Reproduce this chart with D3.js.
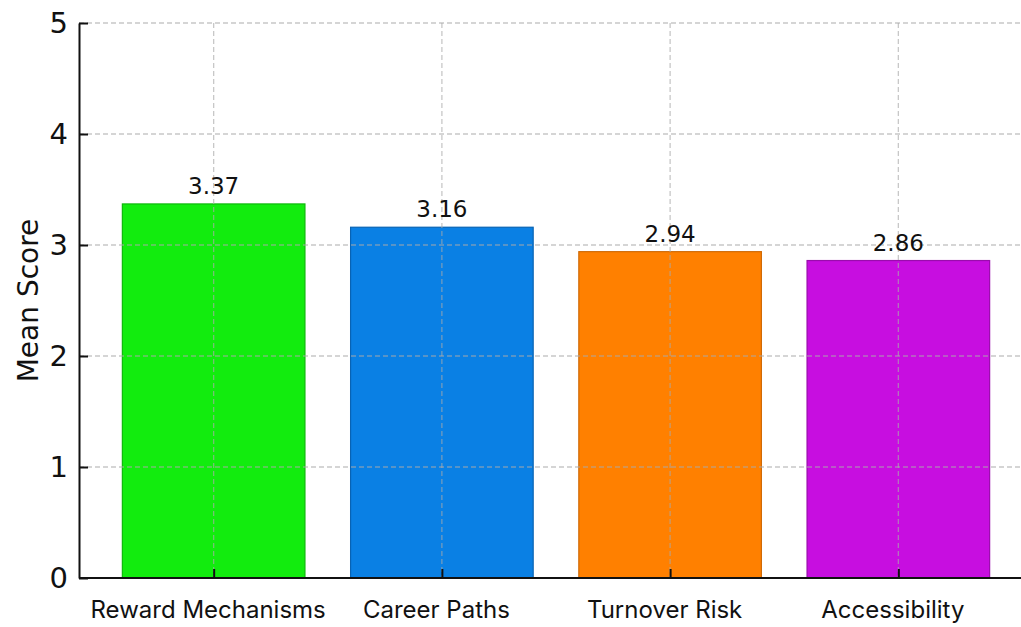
<!DOCTYPE html>
<html>
<head>
<meta charset="utf-8">
<script src="https://cdn.jsdelivr.net/npm/d3@7"></script>
<style>
  html, body { margin: 0; padding: 0; background: #fff; }
  svg { display: block; }
</style>
</head>
<body>
<svg id="chart" width="1021" height="627"></svg>
<script>
// Mean score per dimension
const categories = ["Reward Mechanisms", "Career Paths", "Turnover Risk", "Accessibility"];
const meanScores = [3.37, 3.16, 2.94, 2.86];
const barColors = ["#12ec0e", "#0a80e4", "#ff8000", "#c70ee0"];
const edgeColors = ["#0fb80c", "#0863b4", "#d06a06", "#9a0bad"];
const yTicks = [0, 1, 2, 3, 4, 5];

const svg = d3.select("#chart");
const plot = { left: 79, right: 1033, top: 23, bottom: 578 };

// Linear x in category units, matching a padded bar layout
const x = d3.scaleLinear().domain([-0.59, 3.59]).range([plot.left, plot.right]);
const y = d3.scaleLinear().domain([0, 5]).range([plot.bottom, plot.top]);
const barHalf = 0.4;

const g = svg.append("g");

// Bars
g.selectAll("rect.bar")
  .data(meanScores)
  .join("rect")
  .attr("class", "bar")
  .attr("x", (d, i) => x(i - barHalf))
  .attr("width", (d, i) => x(i + barHalf) - x(i - barHalf))
  .attr("y", d => y(d))
  .attr("height", d => y(0) - y(d))
  .attr("fill", (d, i) => barColors[i])
  .attr("stroke", (d, i) => edgeColors[i])
  .attr("stroke-width", 1.2);

// Grid (drawn over the bars, semi-transparent)
const grid = g.append("g").attr("stroke", "rgb(170,170,170)").attr("stroke-opacity", 0.65)
  .attr("stroke-width", 1.3).attr("stroke-dasharray", "5,3");
grid.selectAll("line.h").data(yTicks.filter(t => t > 0)).join("line")
  .attr("x1", plot.left).attr("x2", 1021)
  .attr("y1", d => y(d)).attr("y2", d => y(d));
grid.selectAll("line.v").data(categories).join("line")
  .attr("x1", (d, i) => x(i)).attr("x2", (d, i) => x(i))
  .attr("y1", plot.top).attr("y2", plot.bottom);

// Value labels
g.selectAll("text.val")
  .data(meanScores)
  .join("text")
  .attr("class", "val")
  .attr("x", (d, i) => x(i))
  .attr("y", d => y(d) - 10)
  .attr("text-anchor", "middle")
  .attr("font-family", "DejaVu Sans, sans-serif")
  .attr("font-size", 23)
  .attr("fill", "#111")
  .text(d => d.toFixed(2));

// Y axis
const yAxis = d3.axisLeft(y).tickValues(yTicks).tickSizeInner(-9).tickSizeOuter(0).tickPadding(11)
  .tickFormat(d3.format("d"));
const ya = svg.append("g").attr("transform", `translate(${plot.left},0)`).call(yAxis);
ya.select(".domain").attr("stroke", "#111").attr("stroke-width", 2);
ya.selectAll(".tick line").attr("stroke", "#111").attr("stroke-width", 2);
ya.selectAll(".tick text").attr("font-family", "DejaVu Sans, sans-serif")
  .attr("font-size", 29).attr("fill", "#111");

// X axis
const xAxis = d3.axisBottom(x).tickValues(d3.range(categories.length))
  .tickSizeInner(-9).tickSizeOuter(0).tickPadding(23)
  .tickFormat(i => categories[i]);
const xa = svg.append("g").attr("transform", `translate(0,${plot.bottom})`).call(xAxis);
xa.select(".domain").attr("stroke", "#111").attr("stroke-width", 2)
  .attr("d", `M${plot.left},0H1021`);
xa.selectAll(".tick line").attr("stroke", "#111").attr("stroke-width", 2);
xa.selectAll(".tick text").attr("font-family", "Inter, Roboto, sans-serif")
  .attr("font-size", 24).attr("fill", "#111").attr("dx", -6);

// Y axis title
svg.append("text")
  .attr("transform", `translate(38,${(plot.top + plot.bottom) / 2}) rotate(-90)`)
  .attr("text-anchor", "middle")
  .attr("font-family", "DejaVu Sans, sans-serif")
  .attr("font-size", 28)
  .attr("fill", "#111")
  .text("Mean Score");
</script>
</body>
</html>
